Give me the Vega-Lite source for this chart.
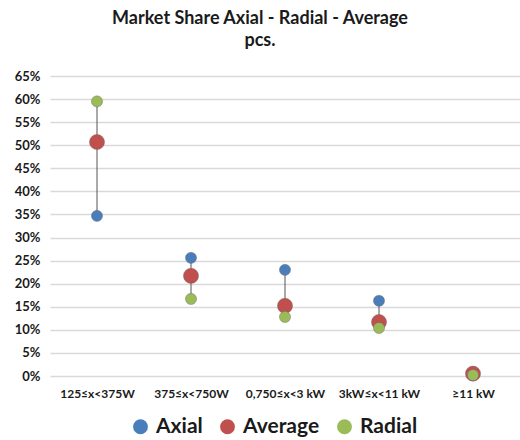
{
  "$schema": "https://vega.github.io/schema/vega-lite/v6.json",
  "autosize": "none",
  "width": 470,
  "height": 300,
  "padding": {"left": 50, "top": 76, "right": 0, "bottom": 64},
  "background": "white",
  "title": {
    "text": ["Market Share Axial - Radial - Average", "pcs."],
    "font": "Lato",
    "fontSize": 18,
    "fontWeight": "bold",
    "color": "#1a1a1a",
    "anchor": "middle",
    "dx": -25,
    "offset": 20,
    "lineHeight": 22
  },
  "data": {
    "values": [
      {"cat": "125≤x<375W", "series": "Axial", "value": 0.347},
      {"cat": "125≤x<375W", "series": "Average", "value": 0.507},
      {"cat": "125≤x<375W", "series": "Radial", "value": 0.595},
      {"cat": "375≤x<750W", "series": "Axial", "value": 0.256},
      {"cat": "375≤x<750W", "series": "Average", "value": 0.217},
      {"cat": "375≤x<750W", "series": "Radial", "value": 0.167},
      {"cat": "0,750≤x<3 kW", "series": "Axial", "value": 0.230},
      {"cat": "0,750≤x<3 kW", "series": "Average", "value": 0.152},
      {"cat": "0,750≤x<3 kW", "series": "Radial", "value": 0.128},
      {"cat": "3kW≤x<11 kW", "series": "Axial", "value": 0.163},
      {"cat": "3kW≤x<11 kW", "series": "Average", "value": 0.117},
      {"cat": "3kW≤x<11 kW", "series": "Radial", "value": 0.104},
      {"cat": "≥11 kW", "series": "Axial", "value": 0.003},
      {"cat": "≥11 kW", "series": "Average", "value": 0.005},
      {"cat": "≥11 kW", "series": "Radial", "value": 0.002}
    ]
  },
  "config": {
    "view": {"stroke": null},
    "font": "Lato",
    "axisY": {
      "labelOverlap": false,
      "labelFont": "Lato",
      "labelFontSize": 13,
      "labelFontWeight": "bold",
      "labelColor": "#1a1a1a",
      "labelPadding": 10,
      "ticks": false,
      "domain": false,
      "gridColor": "#d9d9d9",
      "gridWidth": 1.5
    }
  },
  "encoding": {
    "x": {
      "field": "cat",
      "type": "nominal",
      "sort": null,
      "scale": {"type": "point", "padding": 0.5},
      "axis": {
        "title": null,
        "labelAngle": 0,
        "labelFont": "Lato",
        "labelFontSize": 12,
        "labelFontWeight": "bold",
        "labelColor": "#1a1a1a",
        "ticks": false,
        "domain": false,
        "labelPadding": 12
      }
    }
  },
  "layer": [
    {
      "mark": {"type": "rule", "color": "#555555", "strokeWidth": 1},
      "encoding": {
        "y": {
          "aggregate": "min", "field": "value", "type": "quantitative",
          "scale": {"domain": [0, 0.65]},
          "axis": {
            "title": null,
            "format": ".0%",
            "values": [0, 0.05, 0.1, 0.15, 0.2, 0.25, 0.3, 0.35, 0.4, 0.45, 0.5, 0.55, 0.6, 0.65]
          }
        },
        "y2": {"aggregate": "max", "field": "value"}
      }
    },
    {
      "mark": {"type": "point", "filled": true, "opacity": 1, "stroke": "#666666", "strokeWidth": 0.4},
      "encoding": {
        "y": {
          "field": "value",
          "type": "quantitative",
          "scale": {"domain": [0, 0.65]},
          "axis": {
            "title": null,
            "format": ".0%",
            "values": [0, 0.05, 0.1, 0.15, 0.2, 0.25, 0.3, 0.35, 0.4, 0.45, 0.5, 0.55, 0.6, 0.65]
          }
        },
        "color": {
          "field": "series",
          "type": "nominal",
          "scale": {"domain": ["Axial", "Average", "Radial"], "range": ["#4a7ebb", "#c0504d", "#9bbb59"]},
          "legend": {
            "title": null,
            "orient": "none",
            "legendX": 80,
            "legendY": 340,
            "direction": "horizontal",
            "labelFont": "Lato",
            "labelFontSize": 21,
            "labelFontWeight": "bold",
            "labelColor": "#1a1a1a",
            "symbolType": "circle",
            "symbolSize": 220,
            "symbolStrokeWidth": 0,
            "columnPadding": 14,
            "labelOffset": 5
          }
        },
        "size": {
          "condition": {"test": "datum.series === 'Average'", "value": 230},
          "value": 125
        }
      }
    }
  ]
}
